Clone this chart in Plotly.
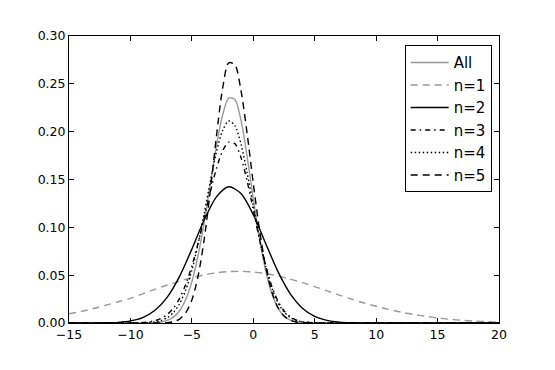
"""Density curves for all draws and for n=1..5, matplotlib classic look."""

import plotly.graph_objects as go

# x grids
x_wide = list(range(-15, 21))
x_fine = [-15, -9, -8, -7.5, -7, -6.5, -6, -5.5, -5, -4.5, -4, -3.5, -3, -2.5, -2,
          -1.5, -1, -0.5, 0, 0.5, 1, 1.5, 2, 2.5, 3, 3.5, 4, 5, 6, 20]

# values
all_y = [0, 0, 0.0004, 0.0011, 0.0027, 0.0061, 0.0128, 0.0245, 0.0431, 0.0702, 0.105,
         0.145, 0.185, 0.217, 0.235, 0.2337, 0.212, 0.174, 0.130, 0.089, 0.055, 0.031,
         0.0158, 0.0073, 0.0031, 0.0012, 0.0004, 0, 0, 0]
n1_y = [0.0097, 0.0121, 0.0151, 0.0186, 0.0222, 0.0258, 0.0305, 0.0352, 0.0397, 0.0437,
        0.0474, 0.0503, 0.0524, 0.0537, 0.054, 0.0533, 0.0517, 0.0492, 0.0459, 0.0422,
        0.038, 0.0336, 0.0292, 0.0249, 0.0209, 0.0175, 0.0142, 0.0114, 0.009, 0.007,
        0.0053, 0.0039, 0.0028, 0.002, 0.0014, 0.0009]
n2_y = [0, 0, 0.0001, 0.0002, 0.0007, 0.0022, 0.0057, 0.0133, 0.0271, 0.0488, 0.0772,
        0.1076, 0.1319, 0.1424, 0.1353, 0.1132, 0.0834, 0.054, 0.0308, 0.0155, 0.0068,
        0.0027, 0.0009, 0.0003, 0.0001, 0, 0, 0, 0, 0, 0, 0, 0, 0, 0, 0]
n3_y = [0, 0.0005, 0.0024, 0.0048, 0.0089, 0.0155, 0.0257, 0.0402, 0.0595, 0.0831,
        0.1097, 0.1369, 0.1614, 0.1797, 0.1891, 0.1875, 0.173, 0.1484, 0.1184, 0.0878,
        0.0605, 0.0387, 0.023, 0.0128, 0.0066, 0.0031, 0.0014, 0.0002, 0, 0]
n4_y = [0, 0.0002, 0.0012, 0.0026, 0.0056, 0.0109, 0.0201, 0.0345, 0.0551, 0.0821,
        0.1141, 0.1478, 0.1786, 0.2011, 0.2112, 0.2064, 0.187, 0.157, 0.1225, 0.0886,
        0.0594, 0.037, 0.0214, 0.0116, 0.0058, 0.0027, 0.0012, 0.0002, 0, 0]
n5_y = [0, 0, 0, 0.0001, 0.0004, 0.0014, 0.0041, 0.0107, 0.0241, 0.0486, 0.087, 0.138,
        0.195, 0.245, 0.272, 0.270, 0.243, 0.198, 0.146, 0.098, 0.0595, 0.033, 0.0164,
        0.0074, 0.003, 0.001, 0.0003, 0, 0, 0]

x_ticks = [-15, -10, -5, 0, 5, 10, 15, 20]
x_labels = ["\u221215", "\u221210", "\u22125", "0", "5", "10", "15", "20"]
y_ticks = [0, 0.05, 0.10, 0.15, 0.20, 0.25, 0.30]
y_labels = ["0.00", "0.05", "0.10", "0.15", "0.20", "0.25", "0.30"]

GRAY = "#999999"
series = [
    ("All", x_fine, all_y, GRAY, "solid"),
    ("n=1", x_wide, n1_y, GRAY, "7px,5px"),
    ("n=2", x_wide, n2_y, "black", "solid"),
    ("n=3", x_fine, n3_y, "black", "5px,4px,1.5px,4px"),
    ("n=4", x_fine, n4_y, "black", "1.5px,2.5px"),
    ("n=5", x_fine, n5_y, "black", "7px,5px"),
]

fig = go.Figure()
for name, xs, ys, color, dash in series:
    fig.add_trace(go.Scatter(
        x=xs, y=ys, name=name, mode="lines",
        line=dict(color=color, width=1.4, dash=dash, shape="spline", smoothing=0.8),
    ))

axis_style = dict(
    showline=True, linecolor="black", linewidth=1, mirror="ticks",
    ticks="inside", ticklen=5, tickcolor="black", tickwidth=1,
    showgrid=False, zeroline=False,
    tickfont=dict(family="DejaVu Sans", size=12.5, color="black"),
)

fig.update_xaxes(range=[-15, 20], tickvals=x_ticks, ticktext=x_labels, **axis_style)
fig.update_yaxes(range=[0, 0.30], tickvals=y_ticks, ticktext=y_labels, **axis_style)

# the page body adds an 8px offset, so margins are set 8px smaller on the left/top
fig.update_layout(
    width=555, height=370,
    margin=dict(l=61, r=64, t=28, b=55),
    paper_bgcolor="white", plot_bgcolor="white",
    legend=dict(
        x=0.983, y=0.968, xanchor="right", yanchor="top",
        bgcolor="white", bordercolor="black", borderwidth=1,
        font=dict(family="DejaVu Sans", size=15, color="black"),
        tracegroupgap=0, itemwidth=38,
    ),
)

fig.write_html("out.html")
